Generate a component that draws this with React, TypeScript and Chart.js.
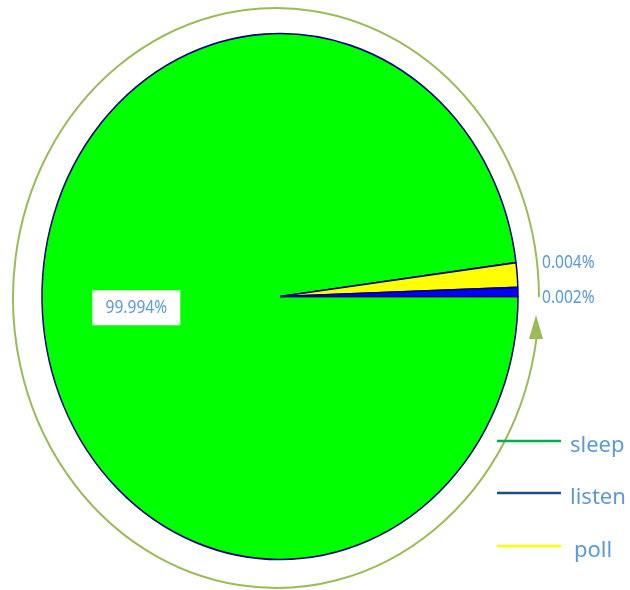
import React, { useEffect, useRef } from "react";
import { Chart, registerables } from "chart.js";

Chart.register(...registerables);

// Slices in drawing order (clockwise from 3 o'clock)
const sliceNames = ["sleep", "poll", "listen"];
// Visual share of each slice as drawn in the picture (degrees of the ellipse)
const sliceShares = [352.6, 5.4, 2.0];
const sliceLabels = ["99.994%", "0.004%", "0.002%"];
const sliceColors = ["#00FF00", "#FFFF00", "#0000FF"];

// Legend entries
const legendNames = ["sleep", "listen", "poll"];
const legendColors = ["#00B050", "#1F4E79", "#FFFF00"];

const SY = 263 / 238; // vertical stretch of the pie
const LABEL_COLOR = "#5B9BD5";
const FONT = "'Noto Sans', 'DejaVu Sans', sans-serif";

const stretchPlugin = {
  id: "stretch",
  beforeDatasetsDraw(chart: any) {
    const arc = chart.getDatasetMeta(0).data[0];
    const { x, y } = arc;
    const ctx = chart.ctx;
    ctx.save();
    ctx.translate(x, y);
    ctx.scale(1, SY);
    ctx.translate(-x, -y);
  },
  afterDatasetsDraw(chart: any) {
    chart.ctx.restore();
  },
};

function condensedText(ctx: CanvasRenderingContext2D, text: string, x: number, y: number, align: "left" | "center", sx: number) {
  const w = ctx.measureText(text).width * sx;
  const left = align === "center" ? x - w / 2 : x;
  ctx.save();
  ctx.translate(left, y);
  ctx.scale(sx, 1);
  ctx.textAlign = "left";
  ctx.fillText(text, 0, 0);
  ctx.restore();
}

const decorPlugin = {
  id: "decor",
  afterDraw(chart: any) {
    const ctx = chart.ctx;
    const meta = chart.getDatasetMeta(0);
    const a0 = meta.data[0];
    const cx = a0.x;
    const cy = a0.y;
    const R = a0.outerRadius;

    // outer sweeping arrow
    ctx.save();
    ctx.strokeStyle = "#9BBB59";
    ctx.fillStyle = "#9BBB59";
    ctx.lineWidth = 2;
    ctx.beginPath();
    const ex = cx - 4, ey = cy + 1.5, rx = 263, ry = 290;
    ctx.ellipse(ex, ey, rx, ry, 0, (8.1 * Math.PI) / 180, (359.8 * Math.PI) / 180);
    ctx.stroke();
    ctx.beginPath();
    ctx.moveTo(cx + 256, cy + 18.5);
    ctx.lineTo(cx + 249, cy + 42.5);
    ctx.lineTo(cx + 263, cy + 42.5);
    ctx.closePath();
    ctx.fill();
    ctx.restore();

    // data labels
    ctx.save();
    ctx.font = `18.5px ${FONT}`;
    ctx.textBaseline = "middle";
    const SX = 0.84;
    // main slice label, inside with white box
    const mid = (a0.startAngle + a0.endAngle) / 2;
    const px = cx + Math.cos(mid) * R * 0.605;
    const py = cy + Math.sin(mid) * R * 0.605 * SY + 1;
    ctx.fillStyle = "#FFFFFF";
    ctx.fillRect(px - 44, py - 17.5, 88, 35);
    ctx.fillStyle = LABEL_COLOR;
    condensedText(ctx, sliceLabels[0], px, py, "center", SX);
    // small slices, outside to the right
    const offs = [0, -34, 1];
    for (let i = 1; i < sliceLabels.length; i++) {
      condensedText(ctx, sliceLabels[i], cx + R + 24, cy + offs[i], "left", SX);
    }
    ctx.restore();

    // legend
    ctx.save();
    ctx.font = `22px ${FONT}`;
    ctx.textBaseline = "alphabetic";
    ctx.textAlign = "left";
    const ys = [441, 493, 546];
    const tx = [570, 570, 574];
    legendNames.forEach((name, i) => {
      ctx.strokeStyle = legendColors[i];
      ctx.lineWidth = 2.5;
      ctx.beginPath();
      ctx.moveTo(497, ys[i]);
      ctx.lineTo(561, ys[i]);
      ctx.stroke();
      ctx.fillStyle = LABEL_COLOR;
      ctx.fillText(name, tx[i], ys[i] + 11);
    });
    ctx.restore();
  },
};

export default function App() {
  const ref = useRef<HTMLCanvasElement | null>(null);
  useEffect(() => {
    if (!ref.current) return;
    const chart = new Chart(ref.current, {
      type: "pie",
      data: {
        labels: sliceNames,
        datasets: [
          {
            data: sliceShares,
            backgroundColor: sliceColors,
            borderColor: "#000080",
            borderWidth: 1.5,
          },
        ],
      },
      options: {
        responsive: false,
        animation: false,
        rotation: 90,
        radius: 238,
        layout: { padding: { left: 0, right: 70, top: 3, bottom: 0 } },
        plugins: {
          legend: { display: false },
          tooltip: { enabled: false },
        },
      } as any,
      plugins: [stretchPlugin, decorPlugin],
    });
    return () => chart.destroy();
  }, []);
  return (
    <div style={{ position: "absolute", left: 0, top: 0, width: 630, height: 590, background: "#fff" }}>
      <canvas ref={ref} width={630} height={590} style={{ width: 630, height: 590 }} />
    </div>
  );
}
